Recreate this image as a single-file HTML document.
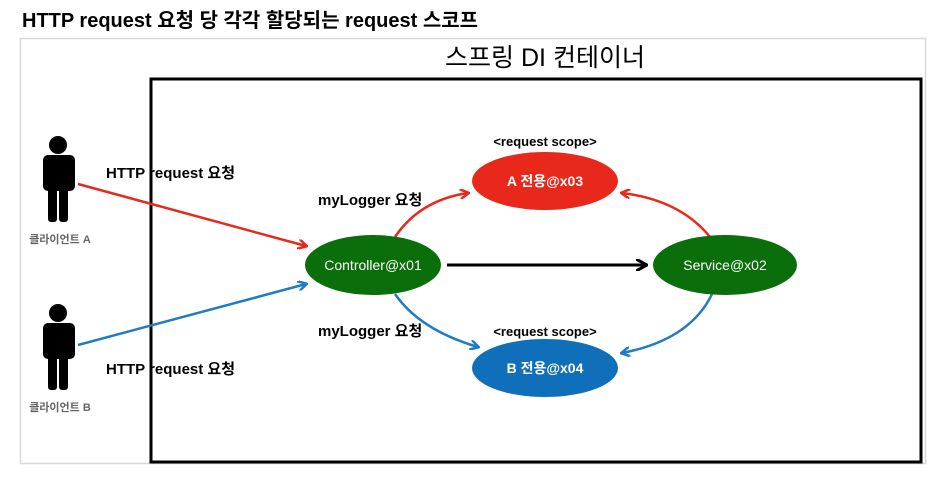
<!DOCTYPE html>
<html><head><meta charset="utf-8"><style>
body{margin:0;background:#fff;width:938px;height:476px;overflow:hidden;font-family:"Liberation Sans","Noto Sans CJK KR",sans-serif}
</style></head><body>
<svg width="938" height="476" xmlns="http://www.w3.org/2000/svg" font-family="Liberation Sans, Noto Sans CJK KR, sans-serif">
<defs>
<marker id="ar" markerWidth="10" markerHeight="10" refX="8" refY="5" orient="auto" markerUnits="userSpaceOnUse"><path d="M0,0 L9,5 L0,10" fill="none" stroke="#e8281a" stroke-width="2.5"/></marker>
<marker id="ab" markerWidth="10" markerHeight="10" refX="8" refY="5" orient="auto" markerUnits="userSpaceOnUse"><path d="M0,0 L9,5 L0,10" fill="none" stroke="#1f7cc4" stroke-width="2.5"/></marker>
<marker id="ak" markerWidth="12" markerHeight="12" refX="10" refY="6" orient="auto" markerUnits="userSpaceOnUse"><path d="M0,0 L11,6 L0,12" fill="none" stroke="#000" stroke-width="3"/></marker>
</defs>
<text x="22" y="27" font-size="20" font-weight="bold">HTTP request 요청 당 각각 할당되는 request 스코프</text>
<rect x="20.5" y="38.5" width="905" height="425" fill="none" stroke="#d8d8d8" stroke-width="1.5"/>
<text x="545" y="66" font-size="25" text-anchor="middle">스프링 DI 컨테이너</text>
<rect x="151" y="79" width="770" height="383" fill="none" stroke="#000" stroke-width="3"/>
<!-- persons -->
<g fill="#000">
<circle cx="58" cy="145" r="9"/>
<rect x="43" y="155" width="32" height="36" rx="5"/>
<rect x="48" y="180" width="9" height="42" rx="3"/><rect x="59" y="180" width="9" height="42" rx="3"/>
<circle cx="58" cy="313" r="9"/>
<rect x="43" y="323" width="32" height="36" rx="5"/>
<rect x="48" y="348" width="9" height="42" rx="3"/><rect x="59" y="348" width="9" height="42" rx="3"/>
</g>
<text x="60" y="243" font-size="11" fill="#666" text-anchor="middle" font-weight="bold">클라이언트 A</text>
<text x="60" y="411" font-size="11" fill="#666" text-anchor="middle" font-weight="bold">클라이언트 B</text>
<text x="106" y="178" font-size="15" font-weight="bold">HTTP request 요청</text>
<text x="106" y="374" font-size="15" font-weight="bold">HTTP request 요청</text>
<text x="318" y="205" font-size="15" font-weight="bold">myLogger 요청</text>
<text x="318" y="336" font-size="15" font-weight="bold">myLogger 요청</text>
<text x="545" y="146" font-size="13" font-weight="bold" text-anchor="middle">&lt;request scope&gt;</text>
<text x="545" y="336" font-size="13" font-weight="bold" text-anchor="middle">&lt;request scope&gt;</text>
<!-- connectors -->
<line x1="78" y1="184" x2="306" y2="246" stroke="#e8281a" stroke-width="2.5" marker-end="url(#ar)"/>
<line x1="78" y1="345" x2="306" y2="284" stroke="#1f7cc4" stroke-width="2.5" marker-end="url(#ab)"/>
<path d="M395,237 Q420,200 468,193" fill="none" stroke="#e8281a" stroke-width="2.5" marker-end="url(#ar)"/>
<path d="M710,237 Q680,200 622,193" fill="none" stroke="#e8281a" stroke-width="2.5" marker-end="url(#ar)"/>
<path d="M395,294 Q420,330 478,347" fill="none" stroke="#1f7cc4" stroke-width="2.5" marker-end="url(#ab)"/>
<path d="M712,294 Q690,340 622,353" fill="none" stroke="#1f7cc4" stroke-width="2.5" marker-end="url(#ab)"/>
<line x1="447" y1="265" x2="646" y2="265" stroke="#000" stroke-width="3" marker-end="url(#ak)"/>
<!-- nodes -->
<ellipse cx="545" cy="181" rx="73" ry="29" fill="#e8281a"/>
<text x="545" y="186" font-size="14" fill="#fff" text-anchor="middle" font-weight="bold">A 전용@x03</text>
<ellipse cx="545" cy="368" rx="73" ry="29" fill="#0f6fba"/>
<text x="545" y="373" font-size="14" fill="#fff" text-anchor="middle" font-weight="bold">B 전용@x04</text>
<ellipse cx="373" cy="265" rx="68" ry="30" fill="#0a6e0a"/>
<text x="373" y="270" font-size="14" fill="#fff" text-anchor="middle">Controller@x01</text>
<ellipse cx="725" cy="265" rx="72" ry="30" fill="#0a6e0a"/>
<text x="725" y="270" font-size="14" fill="#fff" text-anchor="middle">Service@x02</text>
</svg>
</body></html>
